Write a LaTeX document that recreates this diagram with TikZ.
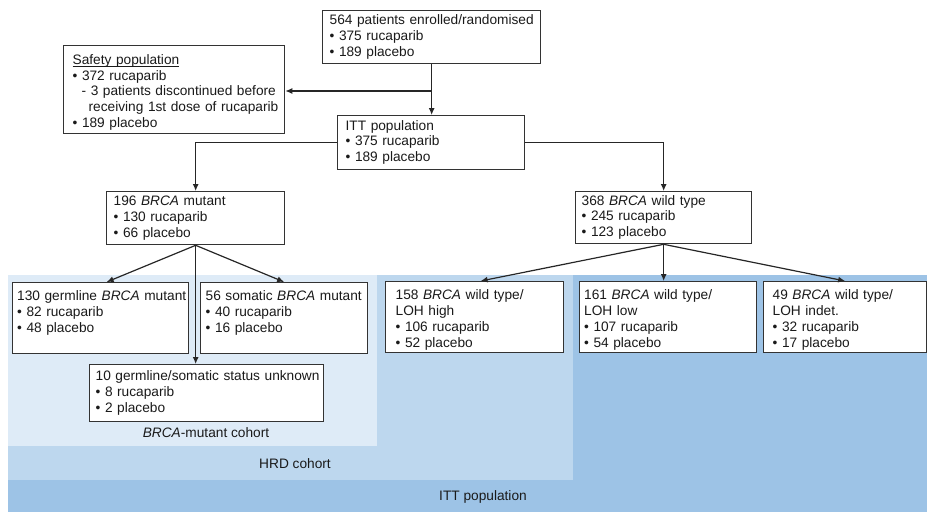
\documentclass[tikz,border=0pt]{standalone}
\usepackage{fontspec}
\setmainfont{Liberation Sans}
\usetikzlibrary{arrows.meta}
\definecolor{bgA}{HTML}{9DC3E6}
\definecolor{bgB}{HTML}{BDD7EE}
\definecolor{bgC}{HTML}{DEEBF7}
\definecolor{edgec}{HTML}{333333}
\definecolor{txt}{HTML}{1A1A1A}
\newcommand{\lns}[1]{\begin{tabular}{@{}l@{}}#1\end{tabular}}
\newcommand{\lnsd}[1]{\raisebox{-3pt}[\height][\depth]{\lns{#1}}}
\newcommand{\myul}[1]{\setbox0\hbox{#1}\rlap{\rule[-2.2pt]{\wd0}{0.8pt}}\box0}
\tikzset{
  fbox/.style={draw=edgec, line width=1.3pt, fill=white, anchor=north west,
    align=left, inner ysep=0pt, text=txt, font=\fontsize{13.7}{15.8}\selectfont},
  conn/.style={draw=black!85, line width=1.2pt, -{Latex[length=7pt,width=6pt]}},
  lab/.style={font=\fontsize{13.7}{15.8}\selectfont, inner sep=0pt, text=txt},
}
\begin{document}
\begin{tikzpicture}[x=1pt,y=-1pt]
\useasboundingbox (0,0) rectangle (927,512);
\fill[bgA] (8,275) rectangle (927,512);
\fill[bgB] (8,275) rectangle (573,480);
\fill[bgC] (8,275) rectangle (377,446);

\node[fbox, inner xsep=7pt, minimum width=218pt, minimum height=53pt, text width=204pt] (enr) at (322,10)
  {\lns{564 patients enrolled/randomised\\ • 375 rucaparib\\ • 189 placebo}};
\node[fbox, inner xsep=9pt, minimum width=221pt, minimum height=88pt, text width=203pt] (safe) at (63,45)
  {\lnsd{\myul{Safety population}\\ • 372 rucaparib\\ \hspace*{9pt}- 3 patients discontinued before\\ \hspace*{16pt}receiving 1st dose of rucaparib\\ • 189 placebo}};
\node[fbox, inner xsep=8pt, minimum width=187pt, minimum height=54pt, text width=171pt] (itt) at (337,115)
  {\lns{ITT population\\ • 375 rucaparib\\ • 189 placebo}};
\node[fbox, inner xsep=7pt, minimum width=178pt, minimum height=53pt, text width=164pt] (mut) at (106,191)
  {\lns{196 \textit{BRCA} mutant\\ • 130 rucaparib\\ • 66 placebo}};
\node[fbox, inner xsep=6pt, minimum width=176pt, minimum height=52pt, text width=164pt] (wt) at (575,191)
  {\lns{368 \textit{BRCA} wild type\\ • 245 rucaparib\\ • 123 placebo}};
\node[fbox, inner xsep=4.5pt, minimum width=176pt, minimum height=71pt, text width=167pt] (germ) at (12,282)
  {\lnsd{130 germline \textit{BRCA} mutant\\ • 82 rucaparib\\ • 48 placebo\\ \strut}};
\node[fbox, inner xsep=5pt, minimum width=167pt, minimum height=71pt, text width=157pt] (som) at (200,282)
  {\lnsd{56 somatic \textit{BRCA} mutant\\ • 40 rucaparib\\ • 16 placebo\\ \strut}};
\node[fbox, inner xsep=10pt, minimum width=178pt, minimum height=71pt, text width=158pt] (high) at (385,281)
  {\lnsd{158 \textit{BRCA} wild type/\\ LOH high\\ • 106 rucaparib\\ • 52 placebo}};
\node[fbox, inner xsep=4.5pt, minimum width=177pt, minimum height=71pt, text width=168pt] (low) at (579,281)
  {\lnsd{161 \textit{BRCA} wild type/\\ LOH low\\ • 107 rucaparib\\ • 54 placebo}};
\node[fbox, inner xsep=9pt, minimum width=163pt, minimum height=71pt, text width=145pt] (indet) at (763,281)
  {\lnsd{49 \textit{BRCA} wild type/\\ LOH indet.\\ • 32 rucaparib\\ • 17 placebo}};
\node[fbox, inner xsep=6pt, minimum width=234pt, minimum height=57pt, text width=222pt] (unk) at (89,364)
  {\lns{10 germline/somatic status unknown\\ • 8 rucaparib\\ • 2 placebo}};

\node[lab] (lmut) at (206,433) {\textit{BRCA}-mutant cohort};
\node[lab] (lhrd) at (295,464) {HRD cohort};
\node[lab] (litt) at (483,497) {ITT population};

\coordinate (b1) at (431,91);
\draw[conn] (enr.south) -- (enr.south |- itt.north);
\draw[conn] (b1) -- (safe.east |- b1);
\draw[conn] (itt.west) -| (mut.north);
\draw[conn] (itt.east) -| (wt.north);
\draw[conn] (mut.south) -- ([xshift=6pt]germ.north);
\draw[conn] (mut.south) -- (som.north);
\draw[conn] (mut.south) -- (mut.south |- unk.north);
\draw[conn] (wt.south) -- ([xshift=6pt]high.north);
\draw[conn] (wt.south) -- (wt.south |- low.north);
\draw[conn] (wt.south) -- (indet.north);
\end{tikzpicture}
\end{document}
